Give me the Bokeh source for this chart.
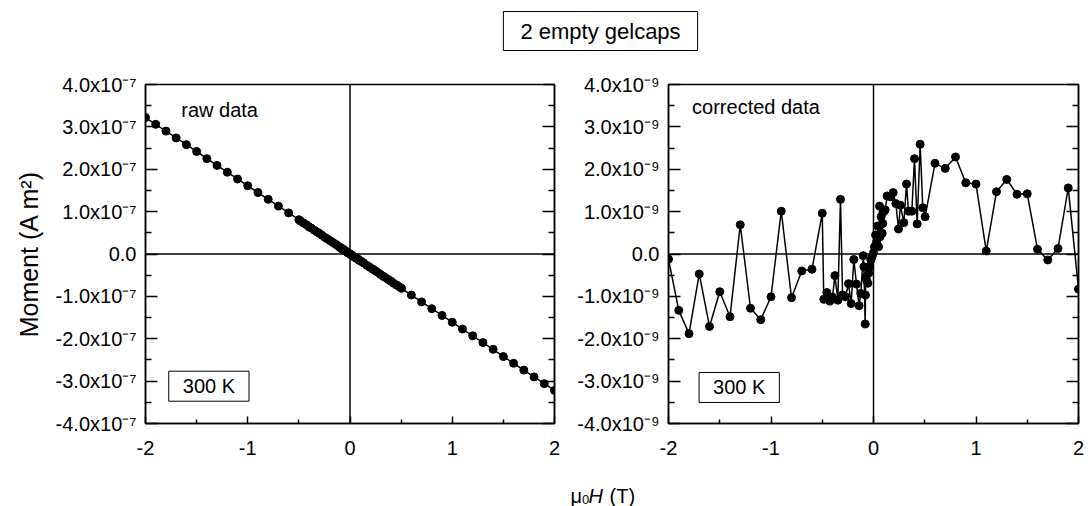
from bokeh.plotting import figure
from bokeh.models import Range1d, FixedTicker, LinearAxis, Span, Label
from bokeh.layouts import column, row
from bokeh.embed import file_html
from bokeh.resources import INLINE

# ---------------- data ----------------
# applied field mu0*H in tesla
field_T = [
    -2.0, -1.9, -1.8, -1.7, -1.6, -1.5, -1.4, -1.3, -1.2, -1.1, -1.0, -0.9, -0.8, -0.7, -0.6, -0.5,
    -0.485, -0.455, -0.426, -0.40, -0.377, -0.348, -0.322, -0.302, -0.273, -0.244, -0.218, -0.192,
    -0.166, -0.140, -0.124, -0.10, -0.094, -0.081, -0.078, -0.075, -0.068, -0.055, -0.046, -0.036,
    -0.026, -0.013, 0.0,
    0.01, 0.02, 0.03, 0.042, 0.049, 0.059, 0.065, 0.075, 0.085, 0.091, 0.10, 0.114, 0.133, 0.166,
    0.192, 0.218, 0.244, 0.263, 0.296, 0.322, 0.341, 0.374, 0.40, 0.426, 0.455, 0.481, 0.504,
    0.6, 0.7, 0.8, 0.9, 1.0, 1.1, 1.2, 1.3, 1.4, 1.5, 1.6, 1.7, 1.8, 1.9, 2.0,
]

# raw moment, in units of 1e-7 A m^2
raw_moment_e7 = [
    3.22, 3.06, 2.90, 2.74, 2.58, 2.42, 2.25, 2.09, 1.93, 1.77, 1.61, 1.45, 1.29, 1.13, 0.97, 0.81,
    0.78, 0.73, 0.69, 0.64, 0.61, 0.56, 0.52, 0.49, 0.44, 0.39, 0.35, 0.31,
    0.27, 0.23, 0.20, 0.16, 0.15, 0.13, 0.13, 0.12, 0.11, 0.09, 0.07, 0.06,
    0.04, 0.02, 0.00,
    -0.02, -0.03, -0.05, -0.07, -0.08, -0.09, -0.10, -0.12, -0.14, -0.15, -0.16, -0.18, -0.21, -0.27,
    -0.31, -0.35, -0.39, -0.42, -0.48, -0.52, -0.55, -0.60, -0.64, -0.69, -0.73, -0.77, -0.81,
    -0.97, -1.13, -1.29, -1.45, -1.61, -1.77, -1.93, -2.09, -2.25, -2.42, -2.58, -2.74, -2.90, -3.06, -3.22,
]

# corrected moment, in units of 1e-9 A m^2
corr_moment_e9 = [
    -0.12, -1.33, -1.88, -0.47, -1.71, -0.89, -1.48, 0.69, -1.28, -1.55, -1.01, 1.01, -1.03, -0.40, -0.36, 0.96,
    -1.07, -0.91, -1.11, -1.02, -0.51, -1.09, 1.29, -0.97, -1.01, -0.70, -1.17, -0.13,
    -0.71, -1.22, -0.93, -0.04, -0.30, -1.65, -0.97, -0.55, -0.61, -0.69, -0.45, -0.30,
    -0.14, -0.06, 0.03,
    0.17, 0.45, 0.29, 0.66, 0.17, 1.13, 0.41, 0.88, 0.49, 0.72, 1.00, 1.04, 1.37, 1.35,
    1.45, 1.19, 0.59, 1.15, 0.74, 1.65, 1.01, 1.01, 2.25, 0.71, 2.59, 1.09, 0.88,
    2.14, 2.02, 2.29, 1.68, 1.65, 0.07, 1.47, 1.76, 1.41, 1.42, 0.11, -0.14, 0.13, 1.56, -0.83,
]

x_ticks = [-2, -1, 0, 1, 2]
x_minor_ticks = [-1.5, -0.5, 0.5, 1.5]
x_tick_labels = ["-2", "-1", "0", "1", "2"]

y_ticks = [-4, -3, -2, -1, 0, 1, 2, 3, 4]
y_minor_ticks = [-3.5, -2.5, -1.5, -0.5, 0.5, 1.5, 2.5, 3.5]
raw_tick_labels = ["-4.0x10\u207b\u2077", "-3.0x10\u207b\u2077", "-2.0x10\u207b\u2077", "-1.0x10\u207b\u2077",
                   "0.0", "1.0x10\u207b\u2077", "2.0x10\u207b\u2077", "3.0x10\u207b\u2077", "4.0x10\u207b\u2077"]
corr_tick_labels = ["-4.0x10\u207b\u2079", "-3.0x10\u207b\u2079", "-2.0x10\u207b\u2079", "-1.0x10\u207b\u2079",
                    "0.0", "1.0x10\u207b\u2079", "2.0x10\u207b\u2079", "3.0x10\u207b\u2079", "4.0x10\u207b\u2079"]

FONT = "Liberation Sans"
TOTAL_W = 1092


def panel(xs, ys, ytick_labels, inner_text, inner_pos, temp_pos,
          border_left, border_right, frame_w, ylabel=None):
    p = figure(output_backend="svg", toolbar_location=None,
               frame_width=frame_w, frame_height=339,
               min_border_left=border_left, min_border_right=border_right,
               min_border_top=16, min_border_bottom=37,
               x_range=Range1d(-2, 2), y_range=Range1d(-4, 4))
    p.background_fill_color = "white"
    p.border_fill_color = "white"
    p.outline_line_color = "black"
    p.outline_line_width = 1.5
    p.grid.visible = False

    xt = FixedTicker(ticks=x_ticks, minor_ticks=x_minor_ticks)
    yt = FixedTicker(ticks=y_ticks, minor_ticks=y_minor_ticks)

    xa = p.xaxis[0]
    xa.ticker = xt
    xa.major_label_overrides = dict(zip(x_ticks, x_tick_labels))
    xa.major_tick_in = 7
    xa.major_tick_out = 0
    xa.minor_tick_in = 4
    xa.minor_tick_out = 0
    xa.major_label_standoff = 17
    xa.major_label_text_font = FONT
    xa.major_label_text_font_size = "20px"
    xa.major_label_text_color = "black"

    ya = p.yaxis[0]
    ya.ticker = yt
    ya.major_label_overrides = dict(zip(y_ticks, ytick_labels))
    ya.major_tick_in = 12
    ya.major_tick_out = 0
    ya.minor_tick_in = 6
    ya.minor_tick_out = 0
    ya.major_label_standoff = 9
    ya.major_label_text_font = FONT
    ya.major_label_text_font_size = "20px"
    ya.major_label_text_color = "black"
    if ylabel:
        ya.axis_label = ylabel
        ya.axis_label_text_font = FONT
        ya.axis_label_text_font_size = "25px"
        ya.axis_label_text_font_style = "normal"
        ya.axis_label_text_color = "black"
        ya.axis_label_standoff = 10

    ra = LinearAxis(ticker=yt, major_tick_in=12, major_tick_out=0,
                    minor_tick_in=6, minor_tick_out=0,
                    major_label_overrides={t: "" for t in y_ticks},
                    major_label_standoff=0)
    p.add_layout(ra, "right")

    for ax in (xa, ya, ra):
        ax.axis_line_color = "black"
        ax.axis_line_width = 1.5
        ax.major_tick_line_color = "black"
        ax.major_tick_line_width = 1.5
        ax.minor_tick_line_color = "black"
        ax.minor_tick_line_width = 1.5

    p.add_layout(Span(location=0, dimension="height", line_color="black", line_width=1.5))
    p.add_layout(Span(location=0, dimension="width", line_color="black", line_width=1.5))

    p.line(xs, ys, line_color="black", line_width=1.5)
    p.scatter(xs, ys, size=8, fill_color="black", line_color="black")

    p.add_layout(Label(x=inner_pos[0], y=inner_pos[1], text=inner_text,
                       text_font=FONT, text_font_size="20px", text_color="black",
                       text_align="left", text_baseline="middle"))
    p.add_layout(Label(x=temp_pos[0], y=temp_pos[1], text="300 K",
                       text_font=FONT, text_font_size="20px", text_color="black",
                       text_align="center", text_baseline="middle",
                       border_line_color="black", border_line_width=1,
                       background_fill_color="white", padding=(14, 4)))
    return p


# page (Bokeh's template has no body margin): left frame 145..554, right frame 667..1077
left = panel(field_T, raw_moment_e7, raw_tick_labels, "raw data", (-1.65, 3.39), (-1.38, -3.12),
             145, 20, 409, ylabel="Moment (A m\u00b2)")
right = panel(field_T, corr_moment_e9, corr_tick_labels, "corrected data", (-1.77, 3.46), (-1.31, -3.15),
              93, 15, 410)

# title strip
TOP_H = 68
top = figure(output_backend="svg", toolbar_location=None, frame_width=TOTAL_W, frame_height=TOP_H,
             min_border=0, x_range=Range1d(0, TOTAL_W), y_range=Range1d(0, TOP_H),
             x_axis_type=None, y_axis_type=None)
top.grid.visible = False
top.outline_line_color = None
top.add_layout(Label(x=600, y=TOP_H - 30.5, text="2 empty gelcaps", text_font=FONT, text_font_size="22px",
                     text_color="black", text_align="center", text_baseline="middle",
                     border_line_color="black", border_line_width=1,
                     background_fill_color="white", padding=(17, 7)))

# x-label strip
BOT_H = 46
bot = figure(output_backend="svg", toolbar_location=None, frame_width=TOTAL_W, frame_height=BOT_H,
             min_border=0, x_range=Range1d(0, TOTAL_W), y_range=Range1d(0, BOT_H),
             x_axis_type=None, y_axis_type=None)
bot.grid.visible = False
bot.outline_line_color = None
bot.add_layout(Label(x=570, y=11, text="\u03bc", text_font=FONT, text_font_size="20px",
                     text_color="black", text_align="left", text_baseline="alphabetic"))
bot.add_layout(Label(x=581.5, y=7, text="0", text_font=FONT, text_font_size="13px",
                     text_color="black", text_align="left", text_baseline="alphabetic"))
bot.add_layout(Label(x=588, y=11, text="H", text_font=FONT, text_font_size="20px",
                     text_font_style="italic",
                     text_color="black", text_align="left", text_baseline="alphabetic"))
bot.add_layout(Label(x=609, y=11, text="(T)", text_font=FONT, text_font_size="20px",
                     text_color="black", text_align="left", text_baseline="alphabetic"))

layout = column(top, row(left, right), bot)

open("out.html", "w").write(file_html(layout, INLINE))
